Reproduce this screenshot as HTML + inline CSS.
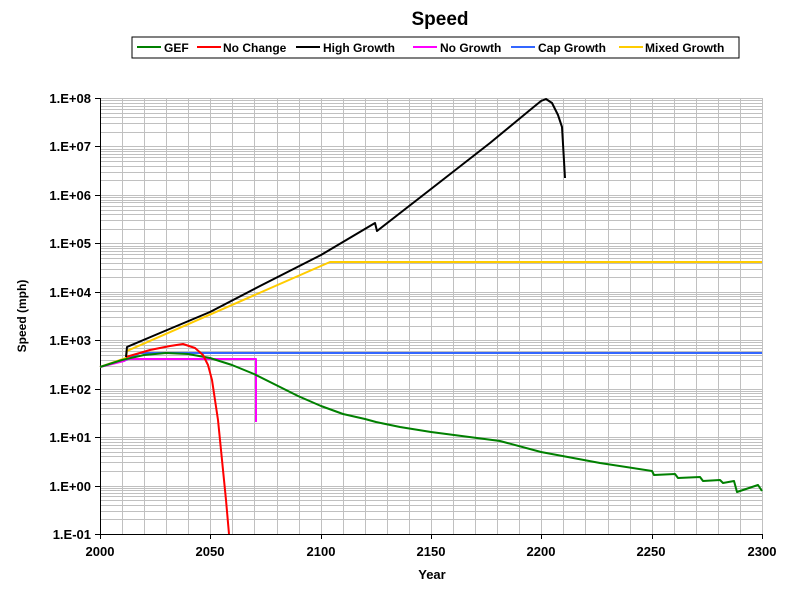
<!DOCTYPE html>
<html><head><meta charset="utf-8"><style>
body{margin:0;background:#fff;}
svg{display:block;font-family:"Liberation Sans",Arial,sans-serif;font-weight:bold;}
</style></head><body>
<svg id="s" width="786" height="590" xmlns="http://www.w3.org/2000/svg">
<rect width="786" height="590" fill="#fff"/>
<g id="grid"></g>
<text x="440" y="25" font-size="19" text-anchor="middle">Speed</text>
<rect x="132" y="37" width="607" height="21" fill="#fff" stroke="#000" stroke-width="1"/>
<g font-size="12">
<line x1="137" y1="47" x2="161" y2="47" stroke="#008000" stroke-width="2"/><text x="164" y="52">GEF</text>
<line x1="197" y1="47" x2="221" y2="47" stroke="#ff0000" stroke-width="2"/><text x="223" y="52">No Change</text>
<line x1="296" y1="47" x2="320" y2="47" stroke="#000" stroke-width="2"/><text x="323" y="52">High Growth</text>
<line x1="413" y1="47" x2="437" y2="47" stroke="#ff00ff" stroke-width="2"/><text x="440" y="52">No Growth</text>
<line x1="511" y1="47" x2="535" y2="47" stroke="#3366ff" stroke-width="2"/><text x="538" y="52">Cap Growth</text>
<line x1="619" y1="47" x2="643" y2="47" stroke="#ffcc00" stroke-width="2"/><text x="645" y="52">Mixed Growth</text>
</g>
<g font-size="13" text-anchor="end">
<text x="91" y="103">1.E+08</text><text x="91" y="151">1.E+07</text><text x="91" y="200">1.E+06</text>
<text x="91" y="248">1.E+05</text><text x="91" y="297">1.E+04</text><text x="91" y="345">1.E+03</text>
<text x="91" y="394">1.E+02</text><text x="91" y="442">1.E+01</text><text x="91" y="491">1.E+00</text>
<text x="91" y="539">1.E-01</text>
</g>
<g font-size="13" text-anchor="middle">
<text x="100" y="556">2000</text><text x="210" y="556">2050</text><text x="321" y="556">2100</text>
<text x="431" y="556">2150</text><text x="541" y="556">2200</text><text x="651" y="556">2250</text>
<text x="762" y="556">2300</text>
<text x="432" y="579">Year</text>
<text font-size="12" transform="translate(26,316) rotate(-90)">Speed (mph)</text>
</g>
<g fill="none" stroke-width="2" stroke-linejoin="round">
<polyline stroke="#ffcc00" points="100,367 126,358 127,351 330,262 762,262"/>
<polyline stroke="#3366ff" points="124,361 128,359 140,353 762,353"/>
<polyline stroke="#ff00ff" points="100,367 124,361 127,359 256,359 256,422"/>
<polyline stroke="#008000" points="100,367 122,360 144,355 166,353 188,354 210,358 232,365 254,374 276,385 298,396 321,406 343,414 365,419 376,422 400,427 431,432 500,441 541,452 600,463 652,471 654,475 675,474 678,478 700,477 703,481 720,480 723,483 734,481 737,492 758,485 762,491"/>
<polyline stroke="#ff0000" points="126,357 150,350 170,346 183,344 195,348 203,355 208,365 212,380 215,400 218,420 220,440 223,470 226,500 229,534"/>
<polyline stroke="#000" points="126,357 127,347 160,333 210,312 260,286 321,255 375,223 377,231 431,189 490,143 530,110 541,101 546,99 552,103 558,115 562,127 565,178"/>
</g>
</svg>
<script>
var g=document.getElementById('grid'),h='';
function L(x1,y1,x2,y2,c){h+='<line x1="'+x1+'" y1="'+y1+'" x2="'+x2+'" y2="'+y2+'" stroke="'+c+'" stroke-width="1"/>';}
for(var d=-1;d<8;d++){for(var k=1;k<10;k++){var y=534-(d+1+Math.log10(k))*48.44;y=Math.round(y)+0.5;L(100,y,762,y,'#c0c0c0');}}
L(100,98.5,762,98.5,'#c0c0c0');
for(var i=1;i<=30;i++){var x=Math.round(100+i*22.067)+0.5;L(x,98,x,534,'#c0c0c0');}
L(100.5,98,100.5,534,'#000');L(100,534.5,762,534.5,'#000');
for(var d=0;d<=9;d++){var y=Math.round(534-d*48.44)+0.5;L(95,y,100,y,'#000');}
for(var i=0;i<=6;i++){var x=Math.round(100+i*110.33)+0.5;L(x,534,x,539,'#000');}
g.innerHTML=h;
</script>
</body></html>
